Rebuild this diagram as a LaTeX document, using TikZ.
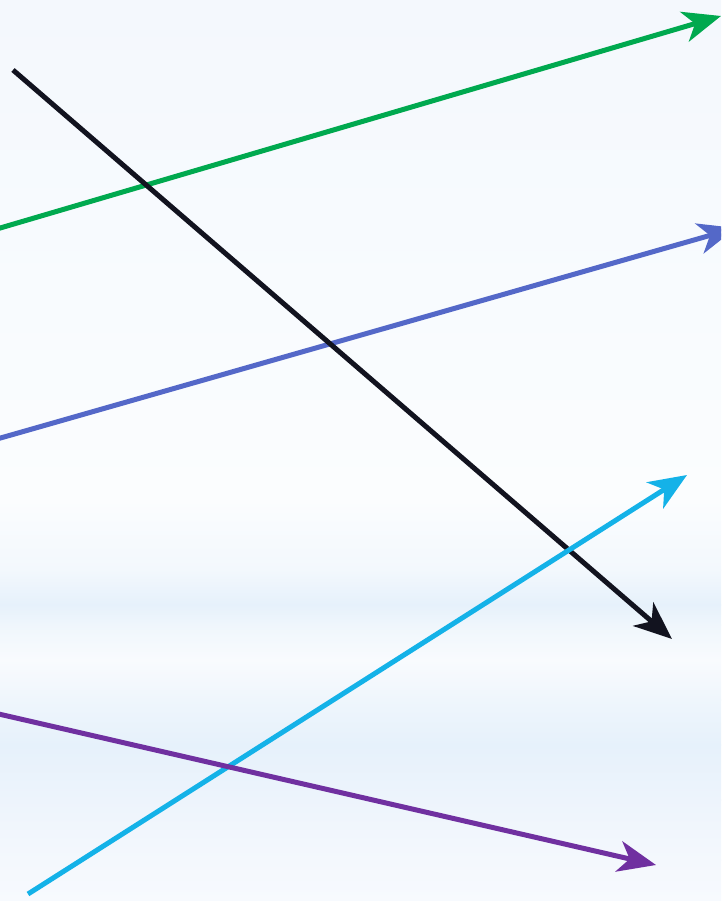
\documentclass[tikz,border=0pt]{standalone}
\usetikzlibrary{arrows.meta}
\definecolor{cgreen}{HTML}{00A94F}
\definecolor{cblue}{HTML}{5468C8}
\definecolor{cblack}{HTML}{12131F}
\definecolor{ccyan}{HTML}{14B2E8}
\definecolor{cpurple}{HTML}{7030A0}
\definecolor{b0}{HTML}{F4F8FD}
\definecolor{b1}{HTML}{F8FBFE}
\definecolor{b2}{HTML}{FBFDFE}
\definecolor{b3}{HTML}{F3F8FD}
\definecolor{b4}{HTML}{E6F1FB}
\definecolor{b5}{HTML}{EFF6FC}
\definecolor{b6}{HTML}{F9FBFE}
\definecolor{b7}{HTML}{EFF6FC}
\definecolor{b8}{HTML}{E6F1FB}
\definecolor{b9}{HTML}{EDF4FC}
\definecolor{b10}{HTML}{F4F8FD}
\definecolor{b11}{HTML}{F7FAFE}
\tikzset{
  vec/.style={line width=5pt, -{Stealth[length=38pt,width=31pt,inset=11pt]}},
  band/.style={draw=none}
}
\begin{document}
\begin{tikzpicture}[x=1pt,y=-1pt]
\useasboundingbox (0,0) rectangle (721,901);
\clip (0,0) rectangle (721,901);
% background bands
\shade[band,top color=b0,bottom color=b1] (0,-1) rectangle (721,300);
\shade[band,top color=b1,bottom color=b2] (0,299) rectangle (721,500);
\shade[band,top color=b2,bottom color=b3] (0,499) rectangle (721,570);
\shade[band,top color=b3,bottom color=b4] (0,569) rectangle (721,605);
\shade[band,top color=b4,bottom color=b5] (0,604) rectangle (721,625);
\shade[band,top color=b5,bottom color=b6] (0,624) rectangle (721,660);
\shade[band,top color=b6,bottom color=b7] (0,659) rectangle (721,700);
\shade[band,top color=b7,bottom color=b8] (0,699) rectangle (721,745);
\shade[band,top color=b8,bottom color=b9] (0,744) rectangle (721,800);
\shade[band,top color=b9,bottom color=b10] (0,799) rectangle (721,860);
\shade[band,top color=b10,bottom color=b11] (0,859) rectangle (721,902);
% end points
\coordinate (g1) at (-10,231);
\coordinate (g2) at (721,16);
\coordinate (u1) at (-10,441);
\coordinate (u2) at (736,228);
\coordinate (k1) at (13,70);
\coordinate (k2) at (672,639);
\coordinate (c1) at (28,894);
\coordinate (c2) at (687,475);
\coordinate (p1) at (-10,712);
\coordinate (p2) at (656,865);
% vectors
\draw[vec,cgreen] (g1) -- (g2);
\draw[vec,cblue] (u1) -- (u2);
\draw[vec,cblack] (k1) -- (k2);
\draw[vec,ccyan] (c1) -- (c2);
\draw[vec,cpurple] (p1) -- (p2);
\end{tikzpicture}
\end{document}
